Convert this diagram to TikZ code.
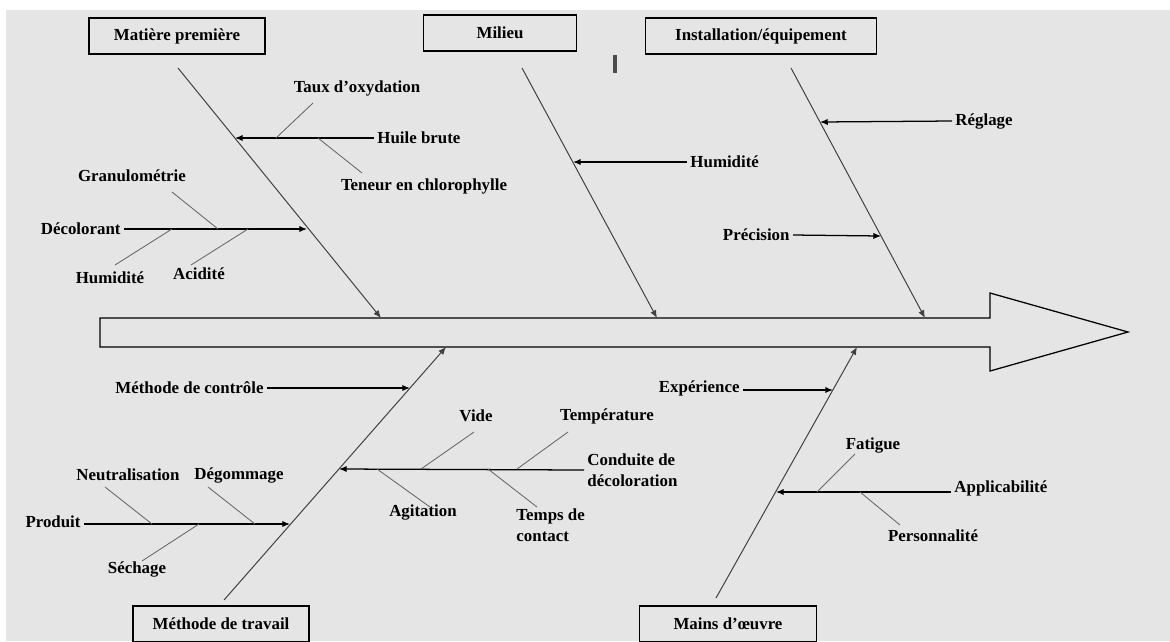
\documentclass[tikz,border=0pt]{standalone}
\usepackage{fontspec}
\setmainfont{Liberation Serif}
\usetikzlibrary{arrows,arrows.meta,positioning,calc}

\begin{document}
\begin{tikzpicture}[x=0.025cm, y=-0.025cm,
  cause/.style={draw, line width=0.9pt, fill=black!10, minimum height=0.9cm,
                text centered, font=\fontsize{12}{15}\selectfont\bfseries},
  lbl/.style={inner sep=0.08cm, align=left, font=\fontsize{12}{15}\selectfont\bfseries},
  bone/.style={-{Latex[length=5.5pt,width=4.5pt]}, black!75, line width=0.7pt},
  arr/.style={-{Latex[length=5.5pt,width=4.5pt]}, line width=0.9pt},
  twig/.style={black!60, line width=0.6pt}
]

% ===== Background =====
\useasboundingbox (0,0) rectangle (1170,641);
\fill[white] (0,0) rectangle (1170,641);
\fill[black!10] (6,10) rectangle (1170,641);

% ===== Spine =====
\draw[line width=0.9pt] (100,318) -- (990,318) -- (990,293) -- (1128,332)
  -- (990,371) -- (990,347) -- (100,347) -- cycle;
\draw[line width=2.6pt, black!70] (615,55) -- (615,73);

% ===== Cause boxes =====
\node[cause, minimum width=4.4cm]  (matiere) at (177,36)  {Matière première};
\node[cause, minimum width=3.83cm] (milieu)  at (500,33)  {Milieu};
\node[cause, minimum width=5.78cm] (install) at (761,36)  {Installation/équipement};
\node[cause, minimum width=4.4cm]  (travail) at (221,624) {Méthode de travail};
\node[cause, minimum width=4.43cm] (mains)   at (728,624) {Mains d'œuvre};

% ===== Main bones =====
\coordinate (mp-a) at (178,68);  \coordinate (mp-b) at (381,318);
\coordinate (mi-a) at (522,68);  \coordinate (mi-b) at (657,318);
\coordinate (in-a) at (791,68);  \coordinate (in-b) at (925,318);
\coordinate (mt-a) at (224,600); \coordinate (mt-b) at (446,347);
\coordinate (mo-a) at (716,598); \coordinate (mo-b) at (857,347);
\draw[bone] (mp-a) -- (mp-b);
\draw[bone] (mi-a) -- (mi-b);
\draw[bone] (in-a) -- (in-b);
\draw[bone] (mt-a) -- (mt-b);
\draw[bone] (mo-a) -- (mo-b);

% ===== Matière première =====
\coordinate (mp-1) at (235,138); \coordinate (mp-2) at (307,229);
\node[lbl, anchor=west] (huile) at (374,138) {Huile brute};
\node[lbl] (taux) at (357,88) {Taux d'oxydation};
\node[lbl] (teneur) at (424,186) {Teneur en chlorophylle};
\draw[arr] (huile.west) -- (mp-1);
\coordinate (taux-a) at (313,103); \coordinate (taux-b) at (276,138);
\coordinate (ten-a) at (318,138);  \coordinate (ten-b) at (362,173);
\draw[twig] (taux-a) -- (taux-b);
\draw[twig] (ten-a) -- (ten-b);

\node[lbl, anchor=east] (decol) at (124,229) {Décolorant};
\node[lbl] (granulo) at (132,176) {Granulométrie};
\node[lbl] (humid1) at (110,278) {Humidité};
\node[lbl] (acid) at (199,274) {Acidité};
\draw[arr] (decol.east) -- (mp-2);
\coordinate (gra-a) at (172,192); \coordinate (gra-b) at (218,229);
\coordinate (hum-a) at (115,265); \coordinate (hum-b) at (172,229);
\coordinate (aci-a) at (191,265); \coordinate (aci-b) at (248,229);
\draw[twig] (gra-a) -- (gra-b);
\draw[twig] (hum-a) -- (hum-b);
\draw[twig] (aci-a) -- (aci-b);

% ===== Milieu =====
\coordinate (mi-1) at (573,162);
\node[lbl, anchor=west] (humid2) at (687,162) {Humidité};
\draw[arr] (humid2.west) -- (mi-1);

% ===== Installation/équipement =====
\coordinate (in-1) at (820,122); \coordinate (in-2) at (881,236);
\node[lbl, anchor=west] (reglage) at (952,121) {Réglage};
\node[lbl, anchor=east] (precis) at (793,235) {Précision};
\draw[arr] (reglage.west) -- (in-1);
\draw[arr] (precis.east) -- (in-2);

% ===== Méthode de travail =====
\coordinate (mt-1) at (410,388); \coordinate (mt-2) at (339,469);
\coordinate (mt-3) at (290,524);
\node[lbl, anchor=east] (controle) at (267,388) {Méthode de contrôle};
\draw[arr] (controle.east) -- (mt-1);

\node[lbl, anchor=west] (conduite) at (584,470) {Conduite de\\décoloration};
\node[lbl] (vide) at (476,416) {Vide};
\node[lbl] (temp) at (607,416) {Température};
\node[lbl] (agit) at (423,512) {Agitation};
\node[lbl, anchor=west] (contact) at (513,525) {Temps de\\contact};
\draw[arr] (conduite.west) -- (mt-2);
\coordinate (vid-a) at (474,432); \coordinate (vid-b) at (421,469);
\coordinate (tem-a) at (568,432); \coordinate (tem-b) at (517,469);
\coordinate (agi-a) at (430,507); \coordinate (agi-b) at (377,469);
\coordinate (con-a) at (537,507); \coordinate (con-b) at (488,469);
\draw[twig] (vid-a) -- (vid-b);
\draw[twig] (tem-a) -- (tem-b);
\draw[twig] (agi-a) -- (agi-b);
\draw[twig] (con-a) -- (con-b);

\node[lbl, anchor=east] (produit) at (84,522) {Produit};
\node[lbl] (neutral) at (128,475) {Neutralisation};
\node[lbl] (degom) at (239,475) {Dégommage};
\node[lbl] (sechage) at (137,569) {Séchage};
\draw[arr] (produit.east |- mt-3) -- (mt-3);
\coordinate (neu-a) at (105,487); \coordinate (neu-b) at (152,524);
\coordinate (deg-a) at (208,487); \coordinate (deg-b) at (255,524);
\coordinate (sec-a) at (142,561); \coordinate (sec-b) at (199,524);
\draw[twig] (neu-a) -- (neu-b);
\draw[twig] (deg-a) -- (deg-b);
\draw[twig] (sec-a) -- (sec-b);

% ===== Mains d'oeuvre =====
\coordinate (mo-1) at (833,390); \coordinate (mo-2) at (776,492);
\node[lbl, anchor=east] (experience) at (743,388) {Expérience};
\draw[arr] (experience.east |- mo-1) -- (mo-1);

\node[lbl, anchor=west] (applic) at (951,488) {Applicabilité};
\node[lbl] (fatigue) at (873,445) {Fatigue};
\node[lbl] (person) at (933,536) {Personnalité};
\draw[arr] (applic.west |- mo-2) -- (mo-2);
\coordinate (fat-a) at (855,454); \coordinate (fat-b) at (817,492);
\coordinate (per-a) at (900,525); \coordinate (per-b) at (860,492);
\draw[twig] (fat-a) -- (fat-b);
\draw[twig] (per-a) -- (per-b);

\end{tikzpicture}
\end{document}
